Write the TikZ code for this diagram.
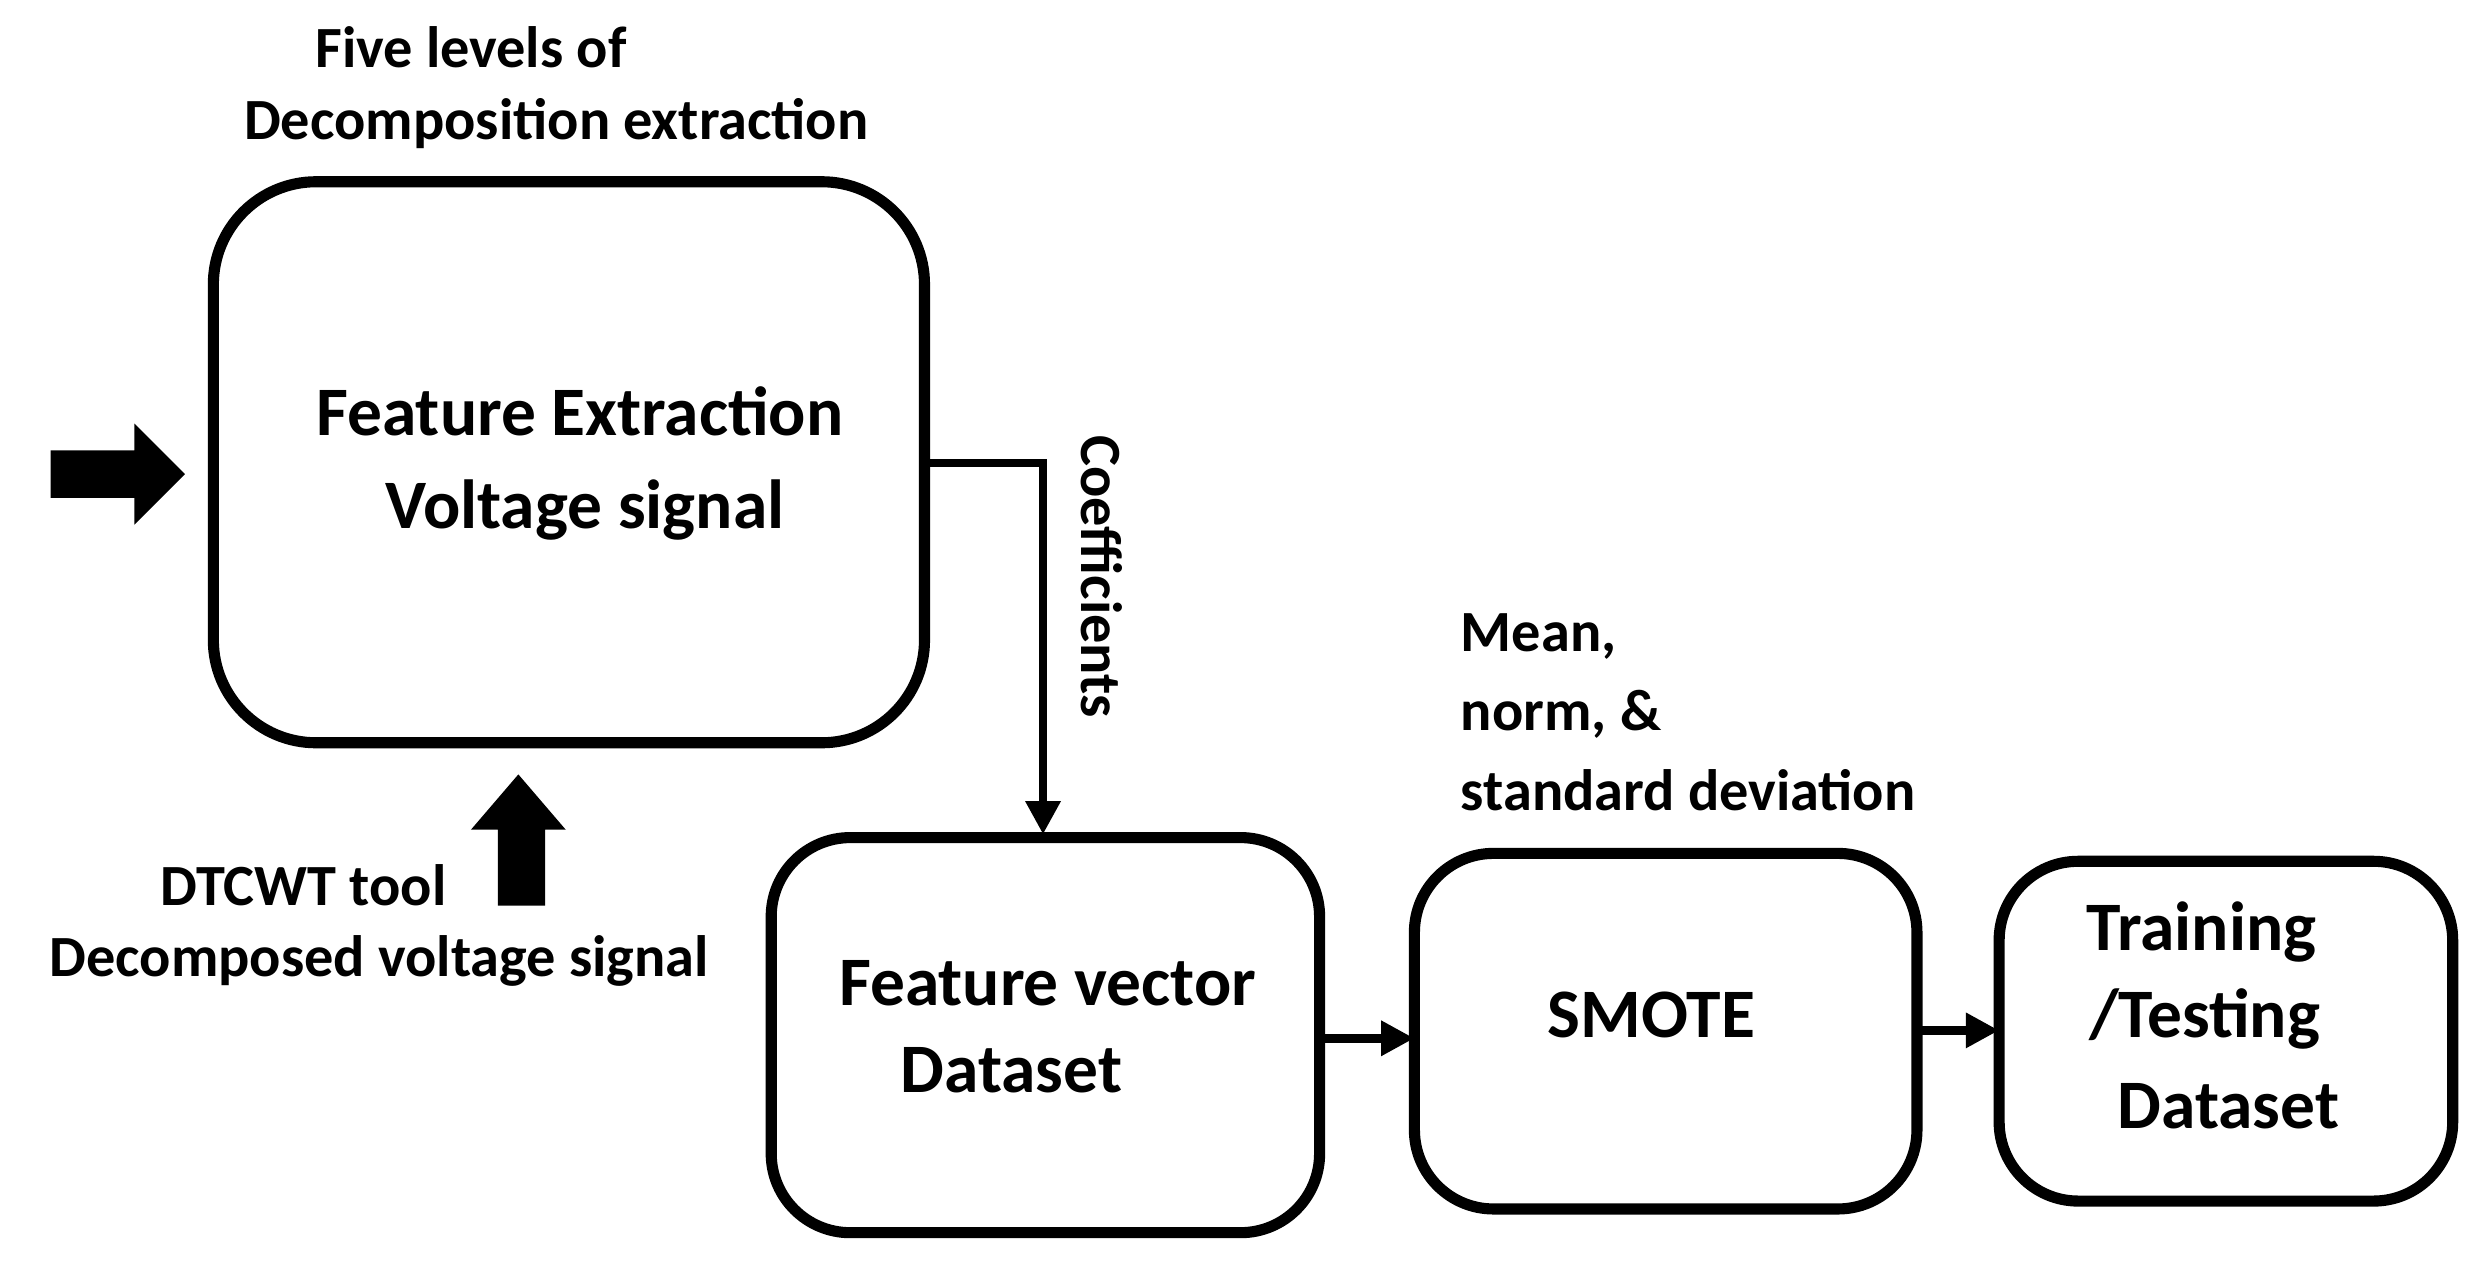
\documentclass[tikz,border=0pt]{standalone}
\usepackage{fontspec}
\setmainfont{Carlito}
\usetikzlibrary{arrows.meta}
\begin{document}
\begin{tikzpicture}[x=0.01cm,y=-0.01cm,
  box/.style={draw,line width=2pt,rounded corners=0.5cm},
  big/.style={font=\bfseries\fontsize{12.5}{18}\selectfont},
  lab/.style={font=\bfseries\fontsize{10.5}{14}\selectfont},
  conn/.style={line width=1.6pt,-{Triangle[length=6pt,width=6pt]}},
  fat/.style={fill=black}]
\useasboundingbox (0,0) rectangle (1568,800);
\draw[box,rounded corners=0.65cm] (135,115) rectangle (585,470);
\node[big] at (367,260) {Feature Extraction};
\node[big] at (370,323) {Voltage signal};
\node[lab] at (298,30) {Five levels of};
\node[lab] at (352,78) {Decomposition extraction};
\fill (32,285) -- (85,285) -- (85,268) -- (117,300) -- (85,332) -- (85,315) -- (32,315) -- cycle;
\fill (315,573) -- (315,525) -- (298,525) -- (328,490) -- (358,525) -- (345,525) -- (345,573) -- cycle;
\node[lab] at (192,560) {DTCWT tool};
\node[lab] at (240,608) {Decomposed voltage signal};
\draw[box] (488,530) coordinate (b2tl) rectangle (835,780);
\coordinate (b1r) at (585,293);
\coordinate (b2t) at (660,528);
\draw[conn] (b1r) -| (b2t);
\node[lab,rotate=-90] at (697,365) {Coefficients};
\node[big] at (663,622) {Feature vector};
\node[big] at (640,677) {Dataset};
\draw[box] (895,540) rectangle (1213,765);
\node[big] at (1045,642) {SMOTE};
\node[lab,anchor=west] at (912,403) {Mean,};
\node[lab,anchor=west] at (912,452) {norm, \&};
\node[lab,anchor=west] at (912,500) {standard deviation};
\draw[box] (1265,545) rectangle (1552,760);
\node[big] at (1393,590) {Training};
\node[big] at (1395,645) {/Testing};
\node[big] at (1410,700) {Dataset};
\coordinate (a1) at (835,657); \coordinate (a2) at (895,657);
\draw[conn] (a1) -- (a2);
\coordinate (c1) at (1213,652); \coordinate (c2) at (1265,652);
\draw[conn] (c1) -- (c2);
\end{tikzpicture}
\end{document}
